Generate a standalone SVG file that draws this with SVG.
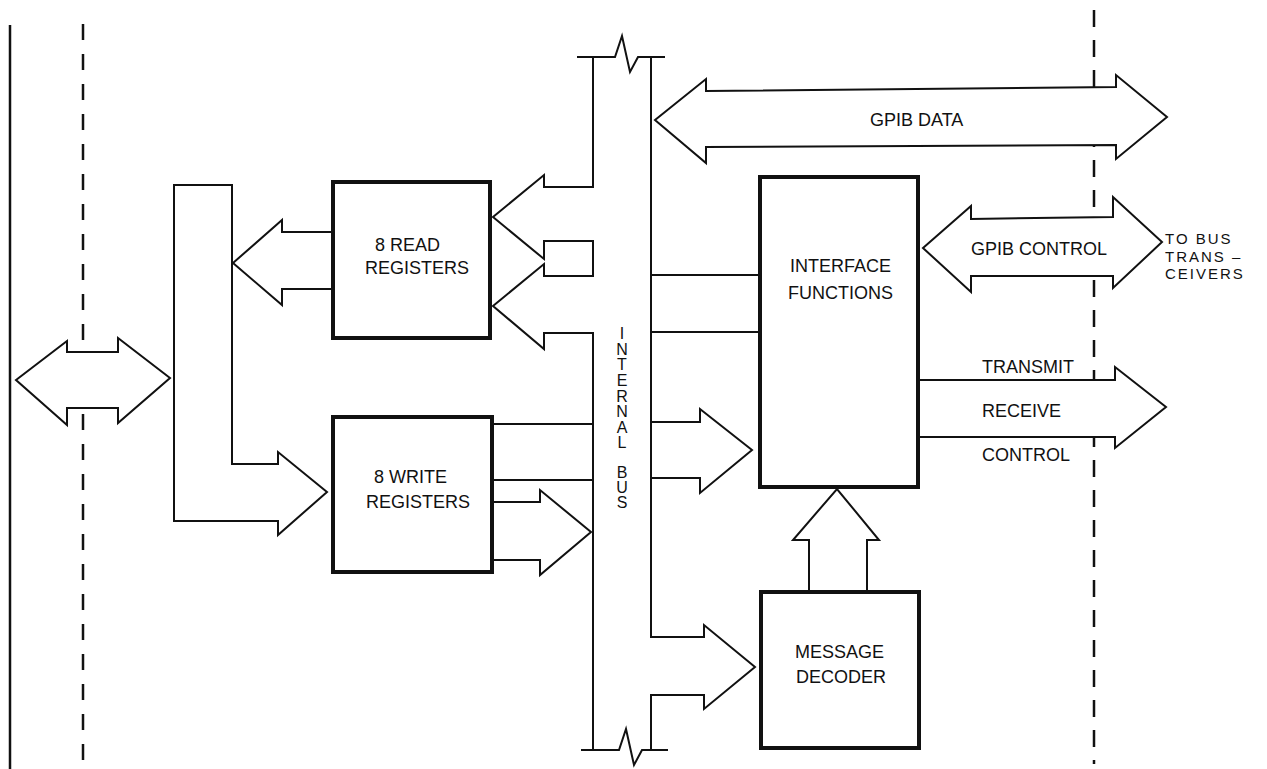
<svg xmlns="http://www.w3.org/2000/svg" width="1267" height="769" viewBox="0 0 1267 769">
<style>
.bg{fill:#fff}
.box{fill:#fff;stroke:#111;stroke-width:4}
.ln{fill:none;stroke:#111;stroke-width:2;stroke-linejoin:miter}
.ar{fill:#fff;stroke:#111;stroke-width:2;stroke-linejoin:miter}
.dash{fill:none;stroke:#111;stroke-width:2.5}
.t{font-family:"Liberation Sans",Arial,sans-serif;font-size:18px;fill:#111}
.ts{font-family:"Liberation Sans",Arial,sans-serif;font-size:15px;fill:#111;letter-spacing:2px}
.tb{font-family:"Liberation Sans",Arial,sans-serif;font-size:16px;fill:#111;text-anchor:middle}
</style>
<rect class="bg" x="0" y="0" width="1267" height="769"/>
<g id="boundaries">
<line class="dash" x1="10" y1="25" x2="10" y2="769"/>
<line class="dash" x1="83" y1="24" x2="83" y2="764" stroke-dasharray="16 14"/>
<line class="dash" x1="1094" y1="10" x2="1094" y2="764" stroke-dasharray="17 13"/>
</g>
<g id="connectors">
<polygon class="ar" points="16,380 67,341 67,352 118,352 118,338 170,378 118,423 118,408 67,408 67,425"/>
<polygon class="ar" points="174,185 232,185 232,464 278,464 278,452 327,492 278,535 278,521 174,521"/>
<path class="ar" d="M333,232 H282 V220 L233,263 L282,305 V289 H333"/>
<path class="ln" d="M492,424 H593 M492,480 H593"/>
<path class="ar" d="M492,502 H540 V490 L591,532 L540,575 V560 H492"/>
<path class="ln" d="M651,275 H760 M651,332 H760"/>
<path class="ar" d="M651,422 H700 V409 L752,450 L700,493 V478 H651"/>
<polygon class="ar" points="655,120 706,79 706,91 1116,87 1116,75 1167,117 1116,159 1116,145 706,147 706,163"/>
<polygon class="ar" points="923,248 971,206 971,219 1113,217 1113,197 1162,242 1113,288 1113,276 971,276 971,292"/>
<path class="ar" d="M918,380 H1115 V367 L1166,407 L1115,448 V437 H918"/>
<path class="ar" d="M809,592 V540 H793 L837,489 L879,540 H867 V592"/>
</g>
<g id="internal-bus">
<path class="ln" d="M593,57 V187 H544 V175 L493,217 L544,259 V241 H593 V276 H544 V264 L493,306 L544,349 V333 H593 V750"/>
<path class="ln" d="M651,57 V637 H704 V625 L755,667 L704,709 V695 H651 V750"/>
<path class="ln" d="M577,57 H615 L622,36 L630,72 L638,57 H665"/>
<path class="ln" d="M581,750 H619 L626,729 L634,765 L642,750 H668"/>
<text class="tb"><tspan x="622" y="339">I</tspan><tspan x="622" y="355">N</tspan><tspan x="622" y="370">T</tspan><tspan x="622" y="386">E</tspan><tspan x="622" y="402">R</tspan><tspan x="622" y="417">N</tspan><tspan x="622" y="433">A</tspan><tspan x="622" y="448">L</tspan><tspan x="622" y="478">B</tspan><tspan x="622" y="493">U</tspan><tspan x="622" y="508">S</tspan></text>
</g>
<g id="read-registers">
<rect class="box" x="333" y="182" width="157" height="156"/>
<text class="t" x="375" y="251">8 READ</text>
<text class="t" x="365" y="274">REGISTERS</text>
</g>
<g id="write-registers">
<rect class="box" x="333" y="417" width="159" height="155"/>
<text class="t" x="374" y="483">8 WRITE</text>
<text class="t" x="366" y="508">REGISTERS</text>
</g>
<g id="interface-functions">
<rect class="box" x="760" y="177" width="158" height="310"/>
<text class="t" x="790" y="272">INTERFACE</text>
<text class="t" x="788" y="299">FUNCTIONS</text>
</g>
<g id="message-decoder">
<rect class="box" x="761" y="592" width="158" height="156"/>
<text class="t" x="795" y="658">MESSAGE</text>
<text class="t" x="796" y="683">DECODER</text>
</g>
<g id="labels">
<text class="t" x="870" y="126">GPIB DATA</text>
<text class="t" x="971" y="255">GPIB CONTROL</text>
<text class="ts" x="1165" y="244">TO BUS</text>
<text class="ts" x="1165" y="261.5">TRANS –</text>
<text class="ts" x="1165" y="279">CEIVERS</text>
<text class="t" x="982" y="373">TRANSMIT</text>
<text class="t" x="982" y="417">RECEIVE</text>
<text class="t" x="982" y="461">CONTROL</text>
</g>
</svg>
